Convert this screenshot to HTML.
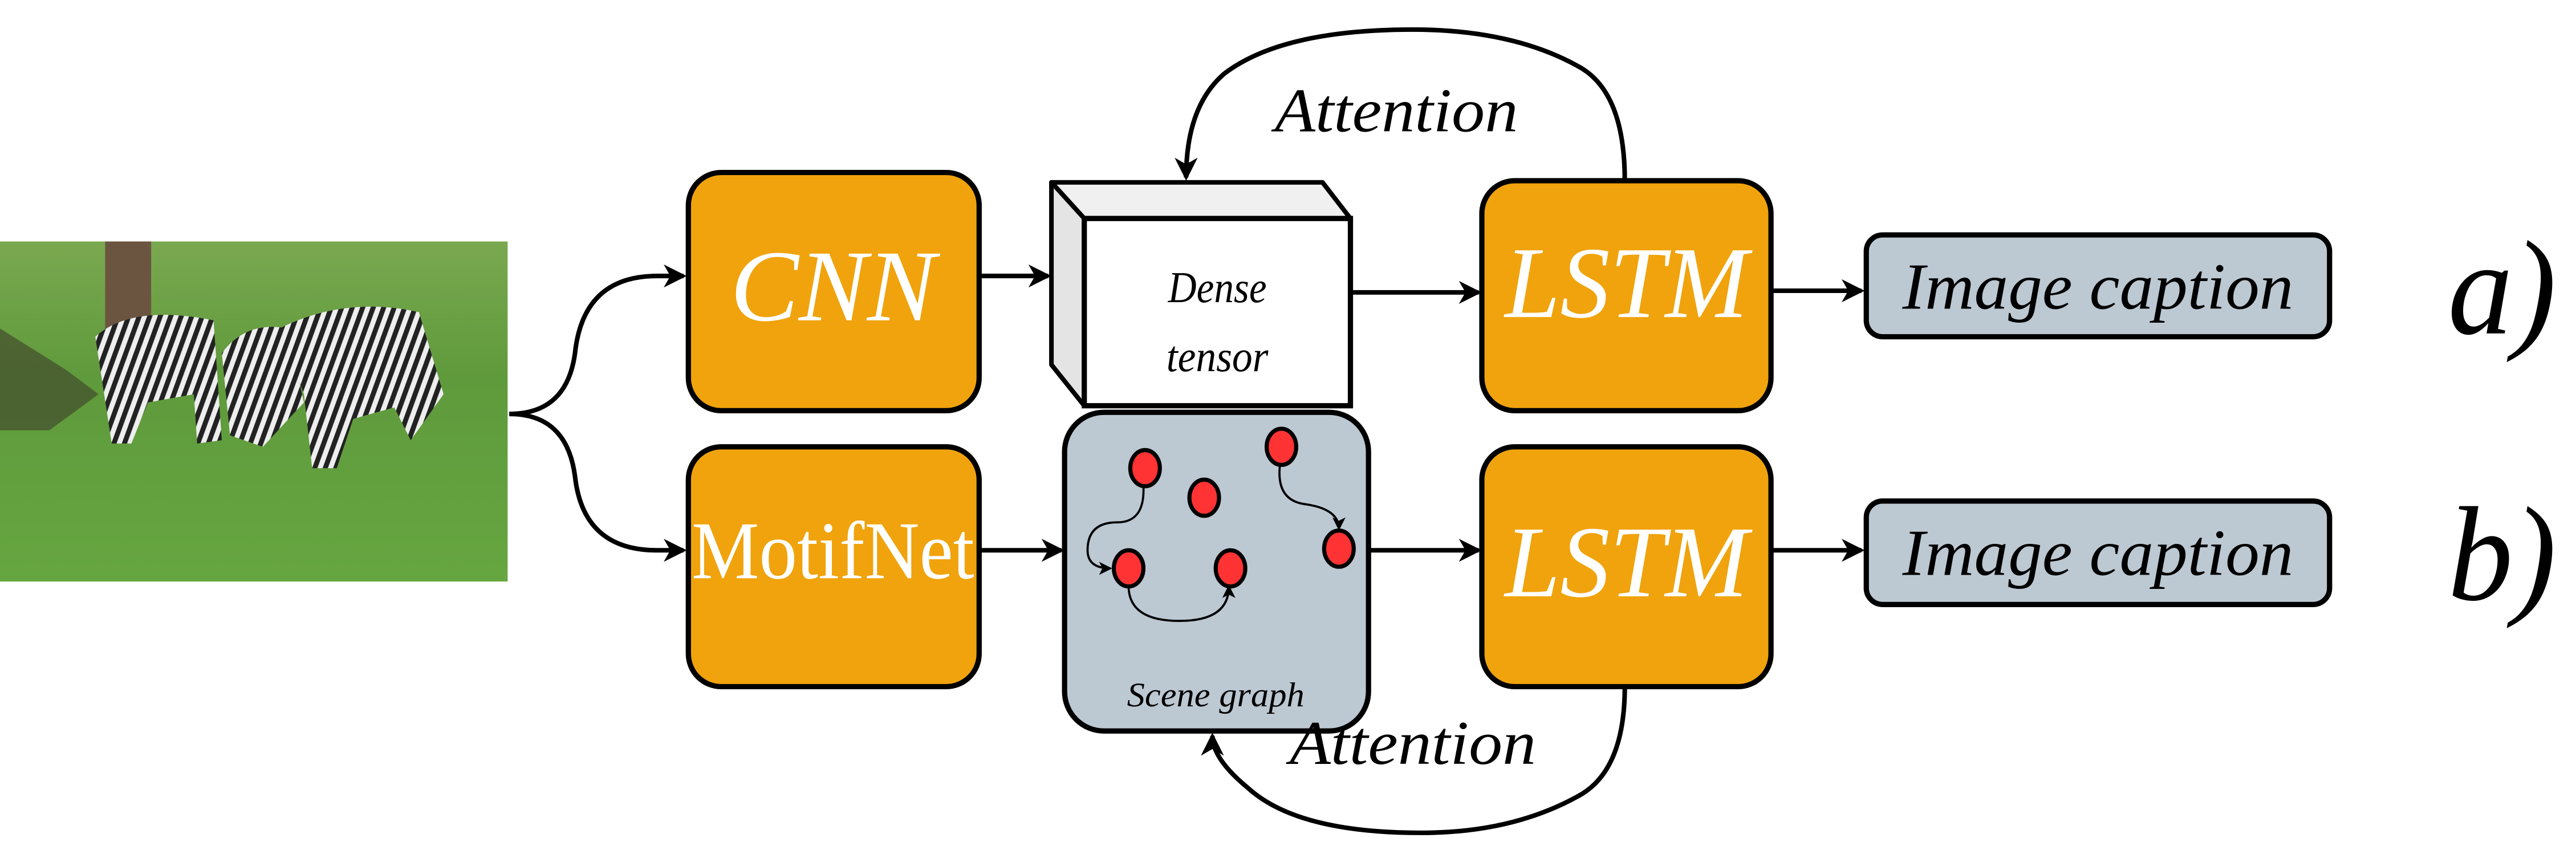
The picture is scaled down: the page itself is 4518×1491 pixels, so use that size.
<!DOCTYPE html>
<html><head><meta charset="utf-8"><style>
html,body{margin:0;padding:0;background:#fff;}
svg{display:block;}
text{font-family:"Liberation Serif","DejaVu Serif",serif;}
</style></head><body>
<svg width="4518" height="1491" viewBox="0 0 1568 517.45" xmlns="http://www.w3.org/2000/svg">
<defs>
<marker id="ah" markerWidth="14" markerHeight="14" refX="12" refY="7" orient="auto" markerUnits="userSpaceOnUse">
<path d="M0,0 L14,7 L0,14 L4,7 Z" fill="#000"/></marker>
<marker id="as" markerWidth="8" markerHeight="8" refX="7" refY="4" orient="auto" markerUnits="userSpaceOnUse">
<path d="M0,0 L8,4 L0,8 L2,4 Z" fill="#000"/></marker>
<pattern id="zs" width="6" height="6" patternUnits="userSpaceOnUse" patternTransform="rotate(20)">
<rect width="6" height="6" fill="#eee"/><rect width="3" height="6" fill="#222"/></pattern>
<linearGradient id="gr" x1="0" y1="0" x2="0" y2="1"><stop offset="0" stop-color="#7aa850"/><stop offset="0.4" stop-color="#5f9a3c"/><stop offset="1" stop-color="#66a640"/></linearGradient>
</defs>
<!-- photo -->
<rect x="0" y="147" width="309" height="207" fill="url(#gr)"/>
<rect x="64" y="147" width="28" height="55" fill="#6b5540"/>
<path d="M0,200 L40,225 L60,240 L30,262 L0,262 Z" fill="#3d3d2a" opacity="0.6"/>
<path d="M58,205 Q80,185 130,195 L135,268 L120,270 L118,240 L90,245 L80,270 L68,270 Z" fill="url(#zs)"/>
<path d="M135,215 Q150,195 175,200 L185,245 L160,272 L140,265 Z" fill="url(#zs)"/>
<path d="M170,200 Q210,180 255,190 L270,240 L250,268 L240,248 L215,255 L205,285 L190,285 L185,240 Z" fill="url(#zs)"/>
<!-- fork -->
<path d="M310,252 Q345,252 350,215 Q355,168 400,168 L416,168" fill="none" stroke="#000" stroke-width="2.8" marker-end="url(#ah)"/>
<path d="M310,252 Q345,252 350,290 Q355,335 400,335 L416,335" fill="none" stroke="#000" stroke-width="2.8" marker-end="url(#ah)"/>
<!-- CNN -->
<rect x="419" y="105" width="177" height="145" rx="20" fill="#f0a30c" stroke="#000" stroke-width="3.2"/>
<text x="507" y="195" font-size="62" font-style="italic" fill="#fff" text-anchor="middle" textLength="125" lengthAdjust="spacingAndGlyphs">CNN</text>
<!-- MotifNet -->
<rect x="419" y="272" width="177" height="146" rx="20" fill="#f0a30c" stroke="#000" stroke-width="3.2"/>
<text x="507" y="352" font-size="50" fill="#fff" text-anchor="middle" textLength="172" lengthAdjust="spacingAndGlyphs">MotifNet</text>
<!-- arrows to middle -->
<line x1="597" y1="168" x2="638" y2="168" stroke="#000" stroke-width="2.8" marker-end="url(#ah)"/>
<line x1="597" y1="335" x2="646" y2="335" stroke="#000" stroke-width="2.8" marker-end="url(#ah)"/>
<!-- Dense tensor -->
<path d="M640,111 L805,111 L822,133 L660,133 Z" fill="#f0f0f0" stroke="#000" stroke-width="2.8" stroke-linejoin="round"/>
<path d="M640,111 L660,133 L660,247 L640,222 Z" fill="#e4e4e4" stroke="#000" stroke-width="2.8" stroke-linejoin="round"/>
<rect x="660" y="133" width="162" height="114" fill="#fff" stroke="#000" stroke-width="3.2"/>
<text x="741" y="184" font-size="27" font-style="italic" text-anchor="middle" textLength="60" lengthAdjust="spacingAndGlyphs">Dense</text>
<text x="741" y="226" font-size="27" font-style="italic" text-anchor="middle" textLength="62" lengthAdjust="spacingAndGlyphs">tensor</text>
<!-- Scene graph -->
<rect x="648" y="251" width="185" height="194" rx="24" fill="#bcc8d2" stroke="#000" stroke-width="3.2"/>
<g fill="none" stroke="#000" stroke-width="1.3">
<path d="M696,296 Q697,318 680,318 Q662,318 662,335 Q662,346 676,346" marker-end="url(#as)"/>
<path d="M779,284 Q777,305 795,307 Q815,310 815,322" marker-end="url(#as)"/>
<path d="M687,358 Q688,378 718,378 Q748,378 748,357" marker-end="url(#as)"/>
</g>
<g fill="#ff3333" stroke="#000" stroke-width="2.5">
<ellipse cx="697" cy="285" rx="9" ry="11"/>
<ellipse cx="733" cy="303" rx="9" ry="11"/>
<ellipse cx="780" cy="272" rx="9" ry="11"/>
<ellipse cx="815" cy="334" rx="9" ry="11"/>
<ellipse cx="687" cy="346" rx="9" ry="11"/>
<ellipse cx="749" cy="346" rx="9" ry="11"/>
</g>
<text x="740" y="430" font-size="21" font-style="italic" text-anchor="middle" textLength="108" lengthAdjust="spacingAndGlyphs">Scene graph</text>
<!-- to LSTM -->
<line x1="822" y1="178" x2="900" y2="178" stroke="#000" stroke-width="2.8" marker-end="url(#ah)"/>
<line x1="833" y1="335" x2="900" y2="335" stroke="#000" stroke-width="2.8" marker-end="url(#ah)"/>
<!-- LSTMs -->
<rect x="902" y="110" width="176" height="140" rx="20" fill="#f0a30c" stroke="#000" stroke-width="3.2"/>
<text x="990" y="193" font-size="62" font-style="italic" fill="#fff" text-anchor="middle" textLength="148" lengthAdjust="spacingAndGlyphs">LSTM</text>
<rect x="902" y="272" width="176" height="146" rx="20" fill="#f0a30c" stroke="#000" stroke-width="3.2"/>
<text x="990" y="363" font-size="62" font-style="italic" fill="#fff" text-anchor="middle" textLength="148" lengthAdjust="spacingAndGlyphs">LSTM</text>
<!-- to captions -->
<line x1="1078" y1="177" x2="1133" y2="177" stroke="#000" stroke-width="2.8" marker-end="url(#ah)"/>
<line x1="1078" y1="335" x2="1133" y2="335" stroke="#000" stroke-width="2.8" marker-end="url(#ah)"/>
<rect x="1136" y="143" width="282" height="62" rx="10" fill="#bcc8d2" stroke="#000" stroke-width="3.2"/>
<text x="1277" y="188" font-size="40" font-style="italic" text-anchor="middle" textLength="238" lengthAdjust="spacingAndGlyphs">Image caption</text>
<rect x="1136" y="305" width="282" height="63" rx="10" fill="#bcc8d2" stroke="#000" stroke-width="3.2"/>
<text x="1277" y="350" font-size="40" font-style="italic" text-anchor="middle" textLength="238" lengthAdjust="spacingAndGlyphs">Image caption</text>
<!-- a) b) -->
<text x="1490" y="203" font-size="82" font-style="italic" textLength="66" lengthAdjust="spacingAndGlyphs">a)</text>
<text x="1490" y="365" font-size="82" font-style="italic" textLength="66" lengthAdjust="spacingAndGlyphs">b)</text>
<!-- attention curves -->
<path d="M989,110 Q989,55 960,40 Q920,18 860,18 Q780,18 745,45 Q722,65 722,108" fill="none" stroke="#000" stroke-width="2.8" marker-end="url(#ah)"/>
<text x="850" y="80" font-size="38" font-style="italic" text-anchor="middle" textLength="148" lengthAdjust="spacingAndGlyphs">Attention</text>
<path d="M989,418 Q989,470 960,485 Q920,507 865,507 Q790,507 760,480 Q738,462 738,448" fill="none" stroke="#000" stroke-width="2.8" marker-end="url(#ah)"/>
<text x="860" y="465" font-size="38" font-style="italic" text-anchor="middle" textLength="150" lengthAdjust="spacingAndGlyphs">Attention</text>
</svg>
</body></html>
